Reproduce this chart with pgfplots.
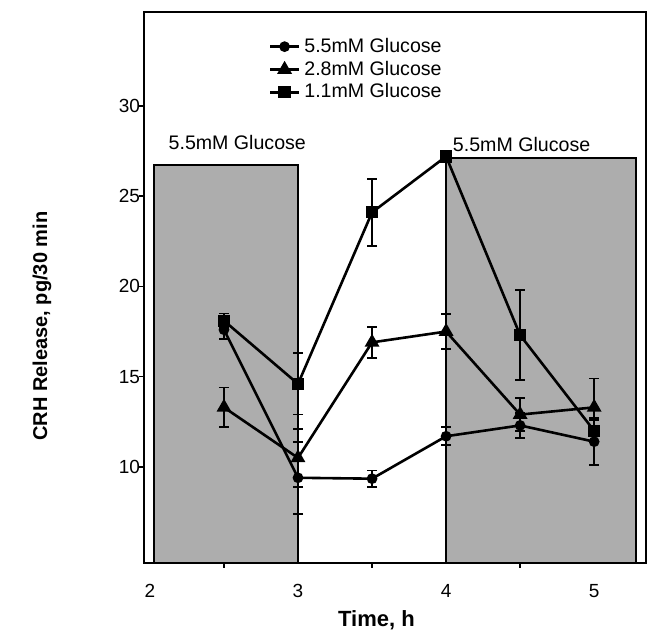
\documentclass[border=0pt]{standalone}
\usepackage{pgfplots}
\pgfplotsset{compat=1.18}
\usepackage{fontspec}
\setmainfont{Liberation Sans}
\setsansfont{Liberation Sans}

\begin{document}
\begin{tikzpicture}
\begin{axis}[
    scale only axis,
    width=251pt, height=275.5pt,
    xmin=1.96, xmax=5.35,
    ymin=4.68, ymax=35.2,
    clip=false,
    axis line style={line width=1pt},
    xtick={2,3,4,5},
    ytick={10,15,20,25,30},
    minor xtick={2.5,3.5,4.5},
    tick pos=left,
    tick align=outside,
    major tick length=2.5pt, minor tick length=2.5pt,
    tick style={black, line width=0.8pt},
    major x tick style={draw=none},
    ticklabel style={font=\fontsize{9.5}{11}\selectfont},
    /pgf/number format/assume math mode=true,
    xticklabel style={yshift=-4.5pt},
    yticklabel style={xshift=4pt},
    legend style={at={(axis cs:2.8,34.0)}, anchor=north west, draw=none, fill=none,
        font=\fontsize{9.8}{10.5}\selectfont, row sep=-1.2pt, inner sep=0pt},
    legend cell align=left,
    legend image code/.code={
        \draw[mark repeat=2,mark phase=2] plot coordinates {(0pt,0pt) (7.25pt,0pt) (14.5pt,0pt)};
    },
]
% shaded periods of 5.5mM glucose
\addplot[fill=black!32, draw=black, line width=1pt, forget plot]
    coordinates {(2.03,4.68) (2.03,26.7) (3.0,26.7) (3.0,4.68)} -- cycle;
\addplot[fill=black!32, draw=black, line width=1pt, forget plot]
    coordinates {(4.0,4.68) (4.0,27.1) (5.28,27.1) (5.28,4.68)} -- cycle;

\node[font=\fontsize{9.8}{11}\selectfont] at (axis cs:2.59,27.95) {5.5mM Glucose};
\node[font=\fontsize{9.8}{11}\selectfont] at (axis cs:4.51,27.84) {5.5mM Glucose};

% 5.5mM
\addplot[black, line width=1.3pt, mark=*, mark size=2pt, mark options={solid, fill=black},
    error bars/.cd, y dir=both, y explicit, error mark=-,
    error bar style={line width=0.9pt}, error mark options={rotate=90, line width=0.9pt, mark size=2.5pt}]
    coordinates {
    (2.5,17.6) +- (0,0.5)
    (3.0,9.4) +- (0,2.0)
    (3.5,9.35) +- (0,0.45)
    (4.0,11.7) +- (0,0.5)
    (4.5,12.3) +- (0,0.7)
    (5.0,11.4) +- (0,1.3)
    };
\addlegendentry{5.5mM Glucose}
% 2.8mM
\addplot[black, line width=1.3pt, mark=triangle*, mark size=3pt, mark options={solid, fill=black},
    error bars/.cd, y dir=both, y explicit, error mark=-,
    error bar style={line width=0.9pt}, error mark options={rotate=90, line width=0.9pt, mark size=2.5pt}]
    coordinates {
    (2.5,13.3) +- (0,1.1)
    (3.0,10.5) +- (0,1.6)
    (3.5,16.9) +- (0,0.85)
    (4.0,17.5) +- (0,0.95)
    (4.5,12.9) +- (0,0.9)
    (5.0,13.3) +- (0,1.6)
    };
\addlegendentry{2.8mM Glucose}
% 1.1mM
\addplot[black, line width=1.3pt, mark=square*, mark size=2.4pt, mark options={solid, fill=black},
    error bars/.cd, y dir=both, y explicit, error mark=-,
    error bar style={line width=0.9pt}, error mark options={rotate=90, line width=0.9pt, mark size=2.5pt}]
    coordinates {
    (2.5,18.1) +- (0,0.4)
    (3.0,14.6) +- (0,1.7)
    (3.5,24.1) +- (0,1.85)
    (4.0,27.2) +- (0,0)
    (4.5,17.3) +- (0,2.5)
    (5.0,12.0) +- (0,0.6)
    };
\addlegendentry{1.1mM Glucose}

\node[rotate=90, font=\bfseries\fontsize{10}{12}\selectfont] at ([xshift=-51pt]axis cs:1.96,17.8) {CRH Release, pg/30 min};
\node[font=\bfseries\fontsize{11}{13}\selectfont] at ([yshift=-28.5pt]axis cs:3.53,4.68) {Time, h};
\end{axis}
\pgfresetboundingbox
\useasboundingbox ([xshift=-72pt,yshift=-35.5pt]current axis.south west) rectangle ([xshift=0.5pt,yshift=6pt]current axis.north east);
\end{tikzpicture}
\end{document}
